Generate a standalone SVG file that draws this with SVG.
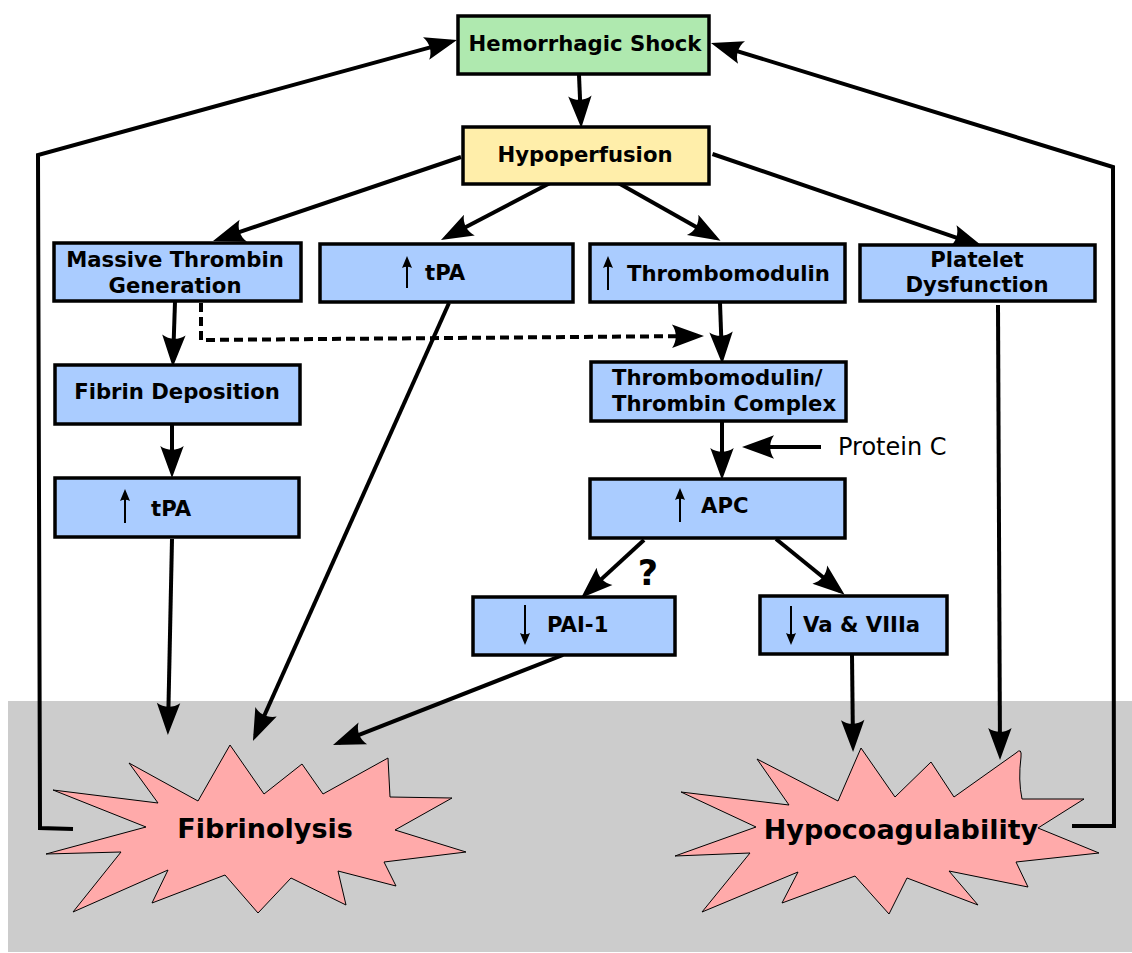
<svg xmlns="http://www.w3.org/2000/svg" width="1132" height="953" viewBox="0 0 1132 953">
<style>
.box{stroke:#000;stroke-width:3.5}
.g{fill:#afe9af}.y{fill:#ffeeaa}.b{fill:#aaccff}
.star{fill:#ffaaaa;stroke:#000;stroke-width:1}
.lbl{font-family:"DejaVu Sans",sans-serif;font-weight:bold;font-size:21.2px;fill:#000}
.c{text-anchor:middle}
.big{font-family:"DejaVu Sans",sans-serif;font-weight:bold;font-size:27px;text-anchor:middle}
.conn{fill:none;stroke:#000;stroke-width:4;marker-end:url(#ah)}
.sm{fill:none;stroke:#000;stroke-width:2;marker-end:url(#sa)}
</style>
<defs>
<marker id="ah" markerUnits="userSpaceOnUse" viewBox="-28 -13 36 26" refX="0" refY="0" markerWidth="36" markerHeight="26" orient="auto" overflow="visible">
<path d="M -26,11.7 L 6,0 L -26,-11.7 C -20.9,-4.7 -20.9,4.8 -26,11.7 Z" fill="#000"/>
</marker>
<marker id="sa" markerUnits="userSpaceOnUse" viewBox="-11 -6 15 12" refX="0" refY="0" markerWidth="15" markerHeight="12" orient="auto" overflow="visible">
<path d="M -9,5 L 3,0 L -9,-5 C -7.3,-2 -7.3,2 -9,5 Z" fill="#000"/>
</marker>
</defs>
<rect width="1132" height="953" fill="#fff"/>
<rect x="8" y="701" width="1124" height="251" fill="#cccccc"/>

<g id="fibrinolysis">
<path class="star" d="M230,745 L264,794 L302,764 L323,794 L388,758 L390,797 L452,798 L395,830 L466,852 L384,862 L396,886 L338,871 L346,905 L291,878 L258,913 L225,875 L152,903 L168,870 L73,912 L121,852 L46,854 L146,827 L53,790 L158,803 L129,763 L198,801 Z"/>
<text class="big" x="265" y="838">Fibrinolysis</text>
</g>
<g id="hypocoagulability">
<path class="star" d="M861,748 L895,797 L931,762 L954,797 L1016,753 Q1022,747 1021,757 Q1018,780 1022,799 L1084,799 L1038,828 L1099,853 L1016,862 L1028,887 L949,871 L978,905 L907,878 L889,914 L855,876 L782,903 L798,872 L702,912 L750,853 L675,856 L756,827 L681,792 L789,805 L757,759 L838,801 Z"/>
<text class="big" x="901" y="839">Hypocoagulability</text>
</g>

<g id="connectors">
<path class="conn" d="M579,75 L581,122"/>
<path class="conn" d="M461,157 L218.7,239.1"/>
<path class="conn" d="M552,182 L446.3,237.2"/>
<path class="conn" d="M616.5,182 L715.3,237.7"/>
<path class="conn" d="M712.5,154 L977.3,244.8"/>
<path class="conn" d="M175,302 L173,361"/>
<path class="conn" d="M201,303 L201,340 L698,336" stroke-dasharray="9,5"/>
<path class="conn" d="M720,303 L722,358"/>
<path class="conn" d="M722,422 L722,474"/>
<path class="conn" d="M821,447 L748,447"/>
<path class="conn" d="M172,539 L168,729"/>
<path class="conn" d="M172,424 L172,472"/>
<path class="conn" d="M449,303 L255.4,735.5"/>
<path class="conn" d="M644,540 L585.4,593.9"/>
<path class="conn" d="M776,539 L840,591"/>
<path class="conn" d="M563,655 L338.6,742.8"/>
<path class="conn" d="M852,655 L853,746"/>
<path class="conn" d="M998,305 L1000,754"/>
<path class="conn" d="M73,829 L40,828 L38,155 L451.2,41.6"/>
<path class="conn" d="M1072,826 L1114,826 L1113,167 L716.7,44.8"/>
</g>

<g id="hemorrhagic-shock">
<rect class="box g" x="458" y="16" width="251" height="58"/>
<text class="lbl c" x="585" y="51">Hemorrhagic Shock</text>
</g>
<g id="hypoperfusion">
<rect class="box y" x="463" y="127" width="246" height="57"/>
<text class="lbl c" x="585" y="162">Hypoperfusion</text>
</g>
<g id="massive-thrombin">
<rect class="box b" x="54" y="243" width="247" height="58"/>
<text class="lbl c" x="175" y="267">Massive Thrombin</text>
<text class="lbl c" x="175" y="293">Generation</text>
</g>
<g id="tpa-mid">
<rect class="box b" x="320" y="244" width="253" height="58"/>
<line class="sm" x1="407" y1="288" x2="407" y2="259"/>
<text class="lbl" x="425" y="280">tPA</text>
</g>
<g id="thrombomodulin">
<rect class="box b" x="590" y="244" width="255" height="58"/>
<line class="sm" x1="608" y1="290" x2="608" y2="259"/>
<text class="lbl" x="627" y="281">Thrombomodulin</text>
</g>
<g id="platelet">
<rect class="box b" x="860" y="245" width="235" height="56"/>
<text class="lbl c" x="977" y="267">Platelet</text>
<text class="lbl c" x="977" y="292">Dysfunction</text>
</g>
<g id="fibrin-deposition">
<rect class="box b" x="55" y="365" width="245" height="59"/>
<text class="lbl c" x="177" y="399">Fibrin Deposition</text>
</g>
<g id="tpa-left">
<rect class="box b" x="55" y="478" width="244" height="59"/>
<line class="sm" x1="125" y1="523" x2="125" y2="492"/>
<text class="lbl" x="151" y="516">tPA</text>
</g>
<g id="tm-complex">
<rect class="box b" x="591" y="362" width="255" height="59"/>
<text class="lbl" x="612" y="385">Thrombomodulin/</text>
<text class="lbl" x="612" y="411">Thrombin Complex</text>
</g>
<g id="protein-c">
<text x="838" y="455" font-family="DejaVu Sans,sans-serif" font-size="24px">Protein C</text>
</g>
<g id="apc">
<rect class="box b" x="590" y="479" width="255" height="59"/>
<line class="sm" x1="680" y1="522" x2="680" y2="491"/>
<text class="lbl" x="701" y="513">APC</text>
</g>
<g id="pai1">
<rect class="box b" x="473" y="597" width="202" height="58"/>
<line class="sm" x1="525" y1="605" x2="525" y2="642"/>
<text class="lbl" x="547" y="632">PAI-1</text>
<text x="648" y="585" font-family="DejaVu Sans,sans-serif" font-weight="bold" font-size="35px" text-anchor="middle">?</text>
</g>
<g id="va-viiia">
<rect class="box b" x="760" y="596" width="187" height="58"/>
<line class="sm" x1="791" y1="606" x2="791" y2="642"/>
<text class="lbl" x="803" y="632">Va &amp; VIIIa</text>
</g>
</svg>
